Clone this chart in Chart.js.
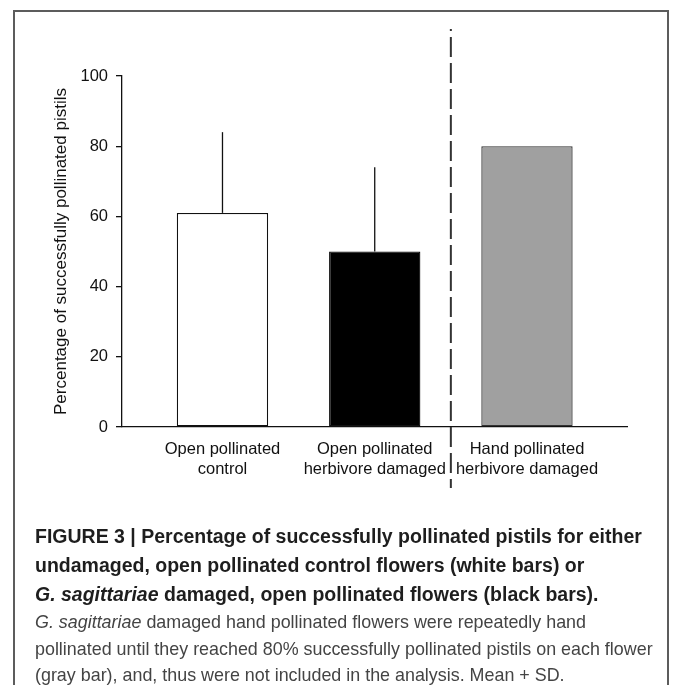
<!DOCTYPE html>
<html lang="en">
<head>
    <meta charset="UTF-8">
    <title>Figure 3 - Pollinated pistils</title>
    <style>
        body {
            margin: 0;
            background: #fff;
            font-family: "Liberation Sans", Arial, sans-serif;
        }
        .frame {
            position: absolute;
            left: 13px;
            top: 10px;
            width: 652px;
            height: 700px;
            border: 2px solid #5c5c5c;
            border-bottom: none;
        }
        #chart-box {
            position: absolute;
            left: 0;
            top: 0;
            width: 674px;
            height: 685px;
        }
        .caption {
            position: absolute;
            left: 35px;
            top: 522px;
            white-space: nowrap;
        }
        .caption .lead {
            font-weight: bold;
            font-size: 19.5px;
            line-height: 29px;
            color: #1e1e1e;
        }
        .caption .body {
            font-size: 17.9px;
            line-height: 26.5px;
            color: #444;
        }
    </style>
</head>
<body>
    <div class="frame"></div>
    <div id="chart-box">
        <canvas id="fig"></canvas>
    </div>
    <div class="caption">
        <div class="lead">FIGURE 3 | Percentage of successfully pollinated pistils for either<br>undamaged, open pollinated control flowers (white bars) or<br><i>G. sagittariae</i> damaged, open pollinated flowers (black bars).</div>
        <div class="body"><i>G. sagittariae</i> damaged hand pollinated flowers were repeatedly hand<br>pollinated until they reached 80% successfully pollinated pistils on each flower<br>(gray bar), and, thus were not included in the analysis. Mean + SD.</div>
    </div>

    <script src="https://cdn.jsdelivr.net/npm/chart.js"></script>
    <script>
        // data
        const categories = [
            ['Open pollinated', 'control'],
            ['Open pollinated', 'herbivore damaged'],
            ['Hand pollinated', 'herbivore damaged']
        ];
        const positions = [1, 2, 3];
        const means = [61, 50, 80];
        const sdUp = [23, 24, null];
        const barColors = ['#ffffff', '#000000', '#a0a0a0'];
        const barEdges = ['#111111', '#111111', '#333333'];
        const yTicks = [0, 20, 40, 60, 80, 100];
        const dividerAt = 2.5;            // between the open and hand pollinated groups
        const dividerSpan = [-17.4, 113.4];

        const ink = '#111';
        const labelFont = { family: '"Liberation Sans", Arial, sans-serif', size: 16.5 };

        // upward SD lines, no caps
        const errorBars = {
            id: 'errorBars',
            afterDatasetsDraw(chart) {
                const ctx = chart.ctx;
                const y = chart.scales.y;
                const meta = chart.getDatasetMeta(0);
                ctx.save();
                ctx.strokeStyle = ink;
                ctx.lineWidth = 1.3;
                meta.data.forEach((bar, i) => {
                    if (sdUp[i] == null) return;
                    ctx.beginPath();
                    ctx.moveTo(bar.x, y.getPixelForValue(means[i]));
                    ctx.lineTo(bar.x, y.getPixelForValue(means[i] + sdUp[i]));
                    ctx.stroke();
                });
                ctx.restore();
            }
        };

        // dashed separator line
        const divider = {
            id: 'divider',
            afterDraw(chart) {
                const ctx = chart.ctx;
                const x = chart.scales.x.getPixelForValue(dividerAt);
                const y = chart.scales.y;
                ctx.save();
                ctx.strokeStyle = '#333';
                ctx.lineWidth = 2;
                ctx.setLineDash([20, 6]);
                ctx.lineDashOffset = 18;
                ctx.beginPath();
                ctx.moveTo(x, y.getPixelForValue(dividerSpan[1]));
                ctx.lineTo(x, y.getPixelForValue(dividerSpan[0]));
                ctx.stroke();
                ctx.restore();
            }
        };

        new Chart(document.getElementById('fig'), {
            type: 'bar',
            data: {
                datasets: [{
                    data: positions.map((x, i) => ({ x: x, y: means[i] })),
                    backgroundColor: barColors,
                    borderColor: barEdges,
                    borderWidth: 1.3,
                    borderSkipped: false,
                    barPercentage: 0.6,
                    categoryPercentage: 1
                }]
            },
            options: {
                responsive: true,
                maintainAspectRatio: false,
                animation: false,
                layout: { padding: { left: 0, top: 76, right: 47, bottom: 178 } },
                plugins: {
                    legend: { display: false },
                    tooltip: { enabled: false }
                },
                scales: {
                    x: {
                        type: 'linear',
                        min: 0.34,
                        max: 3.657,
                        offset: false,
                        afterBuildTicks: (scale) => { scale.ticks = positions.map(v => ({ value: v })); },
                        afterFit: (scale) => { scale.height = 80; },
                        grid: { display: false, drawTicks: false, offset: false },
                        border: { display: true, color: ink, width: 1.3 },
                        ticks: {
                            color: ink,
                            font: { ...labelFont, lineHeight: 1.18 },
                            padding: 13,
                            maxRotation: 0,
                            autoSkip: false,
                            callback: (value) => categories[positions.indexOf(value)]
                        }
                    },
                    y: {
                        min: 0,
                        max: 100,
                        afterBuildTicks: (scale) => { scale.ticks = yTicks.map(v => ({ value: v })); },
                        afterFit: (scale) => { scale.width = 122; },
                        grid: {
                            display: true,
                            drawOnChartArea: false,
                            drawTicks: true,
                            tickLength: 6,
                            color: ink,
                            lineWidth: 1.3
                        },
                        border: { display: true, color: ink, width: 1.3 },
                        ticks: { color: ink, font: labelFont, padding: 8 },
                        title: {
                            display: true,
                            text: 'Percentage of successfully pollinated pistils',
                            color: ink,
                            font: { ...labelFont, size: 17 },
                            padding: { top: 51, bottom: 0 }
                        }
                    }
                }
            },
            plugins: [errorBars, divider]
        });
    </script>
</body>
</html>
